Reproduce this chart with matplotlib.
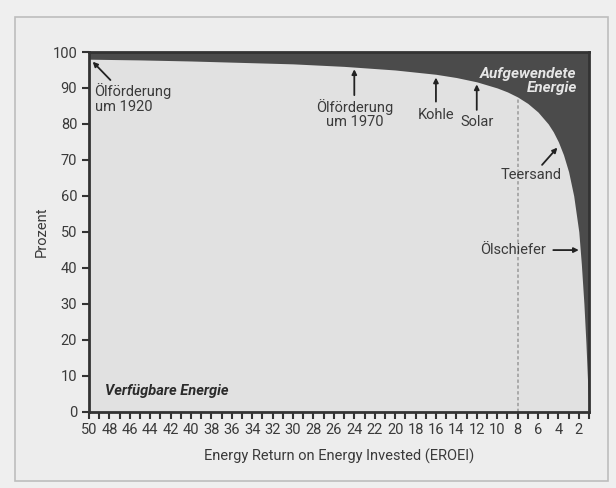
import matplotlib.pyplot as plt
from matplotlib.patches import Rectangle
from matplotlib.ticker import MultipleLocator

# Werte
eroei = [50, 45, 40, 35, 30, 25, 20, 18, 16, 14, 12, 10, 9, 8, 7, 6, 5,
         4.5, 4, 3.5, 3, 2.5, 2, 1.75, 1.5, 1.3, 1.15, 1.05, 1]
verfuegbar = [98, 97.8, 97.5, 97.1, 96.7, 96, 95, 94.4, 93.8, 92.9, 91.7,
              90, 88.9, 87.5, 85.7, 83.3, 80, 77.8, 75, 71.4, 66.7, 60, 50,
              41, 30, 19, 9, 2.5, 0]
x_ticks = list(range(50, 1, -2))
y_ticks = list(range(0, 101, 10))

plt.rcParams['font.family'] = ['Roboto', 'DejaVu Sans']
text_col = '#3a3a3a'
light = '#e1e1e1'
dark = '#4b4b4b'

fig = plt.figure(figsize=(6.16, 4.88), dpi=100, facecolor='#efefef')
fig.patches.append(Rectangle((15 / 616, 1 - 481 / 488), 593 / 616, 464 / 488,
                             transform=fig.transFigure, facecolor='#ededed',
                             edgecolor='#bdbdbd', lw=1.2, zorder=-1))
ax = fig.add_axes([89 / 616, 1 - 411.5 / 488, 500 / 616, 359.5 / 488])
ax.set_facecolor(light)

ax.fill_between(eroei, verfuegbar, 0, color=light, lw=0)
ax.fill_between(eroei, verfuegbar, 100, color=dark, lw=0)
ax.plot([8, 8], [0, 87.5], ls=(0, (2, 1.5)), color='#a0a0a0', lw=1.2)

ax.set_xlim(50, 1)
ax.set_ylim(0, 100)
ax.set_xticks(x_ticks)
ax.xaxis.set_minor_locator(MultipleLocator(1))
ax.set_yticks(y_ticks)
ax.tick_params(axis='both', which='both', direction='out', length=5,
               width=1.5, color='#333333', labelcolor=text_col,
               labelsize=10.5)
for s in ax.spines.values():
    s.set_color('#333333')
    s.set_linewidth(2)

ax.set_xlabel('Energy Return on Energy Invested (EROEI)', fontsize=10.5,
              color=text_col, labelpad=8)
ax.set_ylabel('Prozent', fontsize=10.5, color=text_col)
ax.yaxis.set_label_coords(-0.08, 0.5)

arrow = dict(arrowstyle='-|>', color='#222222', lw=1.3, mutation_scale=7,
             shrinkA=0, shrinkB=0)
fs = 10.5
ax.annotate('', xy=(49.64, 97.3), xytext=(47.9, 92.2), arrowprops=arrow)
ax.text(49.45, 87, 'Ölförderung\num 1920', ha='left', va='center',
        fontsize=fs, color=text_col, linespacing=1.05)
ax.annotate('', xy=(24, 95.2), xytext=(24, 88), arrowprops=arrow)
ax.text(24, 82.8, 'Ölförderung\num 1970', ha='center', va='center',
        fontsize=fs, color=text_col, linespacing=1.05)
ax.annotate('', xy=(16, 92.9), xytext=(16, 86.2), arrowprops=arrow)
ax.text(16, 82.5, 'Kohle', ha='center', va='center', fontsize=fs,
        color=text_col)
ax.annotate('', xy=(12, 91), xytext=(12, 83.9), arrowprops=arrow)
ax.text(12, 80.6, 'Solar', ha='center', va='center', fontsize=fs,
        color=text_col)
ax.annotate('', xy=(4.1, 73.4), xytext=(5.6, 68.6), arrowprops=arrow)
ax.text(6.7, 65.8, 'Teersand', ha='center', va='center', fontsize=fs,
        color=text_col)
ax.annotate('', xy=(2.0, 44.9), xytext=(4.5, 44.9), arrowprops=arrow)
ax.text(5.2, 44.9, 'Ölschiefer', ha='right', va='center', fontsize=fs,
        color=text_col)
ax.text(2.2, 91.8, 'Aufgewendete\nEnergie', ha='right', va='center',
        fontsize=11, color='#e6e6e6', fontweight='bold', style='italic',
        linespacing=1.0)
ax.text(48.4, 5.7, 'Verfügbare Energie', ha='left', va='center',
        fontsize=fs, color='#2a2a2a', fontweight='bold', style='italic')

fig.savefig('out.png', dpi=100, facecolor=fig.get_facecolor())
